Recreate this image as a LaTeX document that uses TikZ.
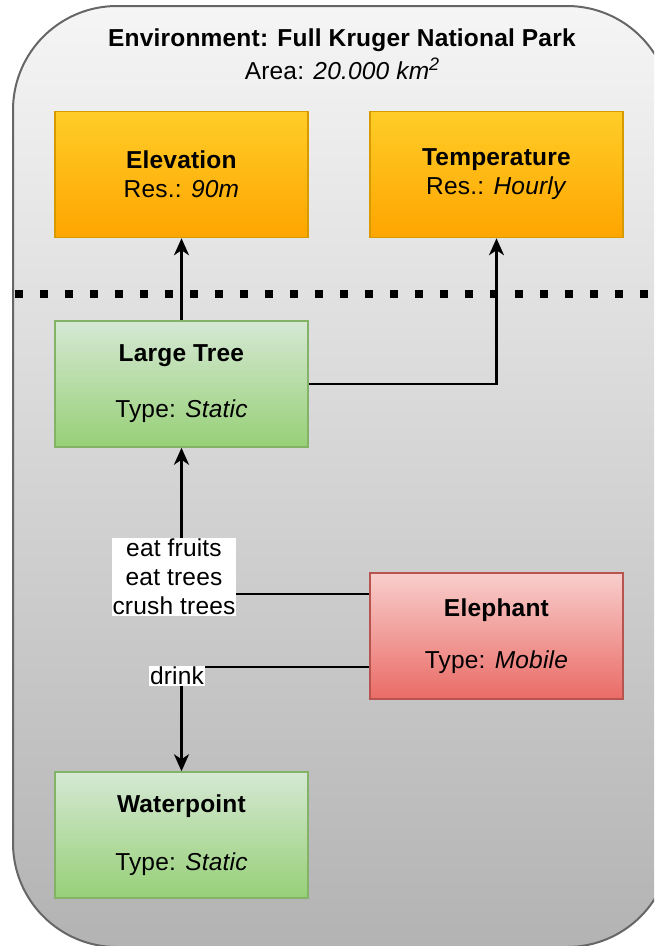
\documentclass[tikz,border=0pt]{standalone}
\usepackage{fontspec}
\setmainfont{Liberation Sans}[LetterSpace=0.8]
\usetikzlibrary{arrows.meta}

\definecolor{parktop}{HTML}{F5F5F5}
\definecolor{parkbot}{HTML}{B3B3B3}
\definecolor{parkline}{HTML}{666666}
\definecolor{layertop}{HTML}{FFCD28}
\definecolor{layerbot}{HTML}{FFA500}
\definecolor{layerline}{HTML}{D79B00}
\definecolor{statictop}{HTML}{D5E8D4}
\definecolor{staticbot}{HTML}{97D077}
\definecolor{staticline}{HTML}{82B366}
\definecolor{mobiletop}{HTML}{F8CECC}
\definecolor{mobilebot}{HTML}{EA6B66}
\definecolor{mobileline}{HTML}{B85450}

\begin{document}
\begin{tikzpicture}[x=1pt, y=-1pt,
  font=\fontsize{24.5}{29}\selectfont,
  box/.style={minimum width=253pt, minimum height=126pt, inner sep=0pt,
    line width=1.5pt, align=center},
  layerbox/.style={box, draw=layerline, top color=layertop, bottom color=layerbot},
  staticbox/.style={box, draw=staticline, top color=statictop, bottom color=staticbot},
  mobilebox/.style={box, draw=mobileline, top color=mobiletop, bottom color=mobilebot},
  flow/.style={line width=2.4pt, -{Stealth[length=17pt, width=15pt, inset=5pt]}},
  tag/.style={fill=white, inner sep=1pt, align=center}]

\useasboundingbox (0,0) rectangle (654,946);
\clip (0,0) rectangle (654,946);

% the park: rounded container running off the right and bottom edges
\path[draw=parkline, line width=2pt, top color=parktop, bottom color=parkbot,
      rounded corners=104pt] (13,6) rectangle (671,947);

\node[align=center] (title) at (342,54)
  {\textbf{Environment: Full Kruger National Park}\\[4pt]
   Area: \textit{20.000 km\raisebox{9pt}{\fontsize{18}{18}\selectfont 2}}};

% environment layers
\node[layerbox] (elev) at (181.5,174.5) {\textbf{Elevation}\\Res.: \textit{90m}};
\node[layerbox] (temp) at (496.5,174.5) {\textbf{Temperature}\\Res.: \textit{Hourly}};

% layer separator
\draw[line width=8pt, dash pattern=on 8pt off 17pt] (15,294) -- (660,294);

% agents
\node[staticbox] (tree) at (181.5,384) {\textbf{Large Tree}\\[27pt]Type: \textit{Static}};
\node[mobilebox] (eleph) at (496.5,636) {\textbf{Elephant}\\[23pt]Type: \textit{Mobile}};
\node[staticbox] (water) at (181.5,835) {\textbf{Waterpoint}\\[29pt]Type: \textit{Static}};

% interactions
\coordinate (eatport) at ([yshift=-22pt]eleph.north west);
\coordinate (drinkport) at ([yshift=-95pt]eleph.north west);

\draw[flow] (tree) -- (elev);
\draw[flow] (tree.east) -| (temp.south);
\draw[flow] (eatport) -| (tree.south);
\draw[flow] (drinkport) -| (water.north);

\node[tag] (eatlabel) at (174,577) {eat fruits\\eat trees\\crush trees};
\node[tag] (drinklabel) at (177,676) {drink};

\end{tikzpicture}
\end{document}
